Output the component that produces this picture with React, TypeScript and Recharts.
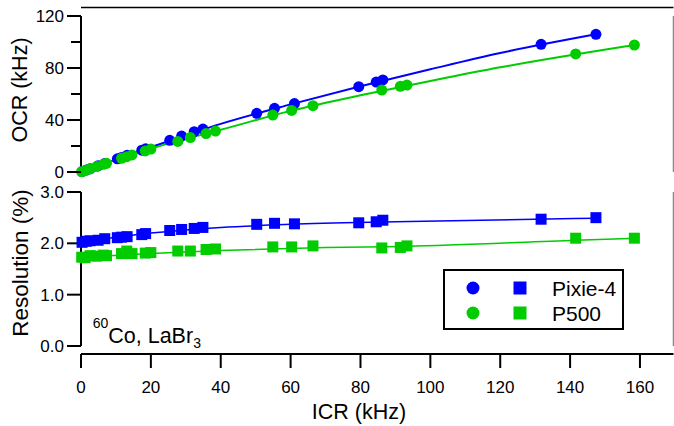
import React from "react";
import {
  ComposedChart,
  Scatter,
  Line,
  XAxis,
  YAxis,
  ReferenceLine,
  Legend,
  Label,
} from "recharts";

// ---------- data ----------
const seriesNames = ["Pixie-4", "P500"];
const seriesColors = ["#0000ff", "#00cc00"];

const blueIcr = [0.3, 1.5, 2.6, 4.9, 6.8, 10.4, 11.6, 13.2, 17.4, 18.5, 25.4, 28.8, 32.4, 34.9, 50.3, 55.4, 61.1, 79.5, 84.5, 86.4, 131.7, 147.4];
const blueOcr = [0.3, 1.5, 2.5, 4.8, 6.6, 10.1, 11.2, 12.8, 16.8, 17.8, 24.4, 27.6, 31.0, 33.0, 45.1, 49.0, 52.6, 65.6, 69.2, 70.8, 98.2, 105.9];
const blueRes = [2.02, 2.04, 2.05, 2.06, 2.09, 2.11, 2.12, 2.13, 2.17, 2.19, 2.25, 2.27, 2.29, 2.31, 2.37, 2.39, 2.38, 2.40, 2.42, 2.45, 2.47, 2.50];

const greenIcr = [0.2, 1.2, 2.6, 4.5, 6.4, 7.3, 11.6, 13.1, 14.6, 18.4, 20.0, 27.7, 31.3, 35.8, 38.5, 54.9, 60.3, 66.4, 86.1, 91.4, 93.3, 141.6, 158.4];
const greenOcr = [0.2, 1.2, 2.5, 4.2, 5.9, 6.7, 10.5, 11.8, 13.1, 16.2, 17.7, 23.5, 26.5, 29.6, 31.5, 43.8, 47.4, 51.0, 63.0, 65.9, 66.9, 90.8, 97.7];
const greenRes = [1.73, 1.72, 1.76, 1.75, 1.77, 1.76, 1.80, 1.85, 1.80, 1.81, 1.82, 1.85, 1.85, 1.88, 1.89, 1.93, 1.93, 1.95, 1.91, 1.92, 1.95, 2.10, 2.10];

// fitted curves
const blueOcrFitIcr = [0, 20, 40, 60, 80, 100, 120, 147.4];
const blueOcrFit = [0, 19, 37, 52, 66, 79, 91.5, 105.9];
const greenOcrFitIcr = [0, 20, 40, 60, 80, 100, 120, 158.4];
const greenOcrFit = [0, 18, 32.5, 47, 59, 70, 80.5, 97.7];

const blueResFitIcr = [0, 20, 40, 60, 90, 147.4];
const blueResFit = [2.02, 2.2, 2.31, 2.37, 2.42, 2.49];
const greenResFitIcr = [0, 20, 40, 70, 93, 141.6, 158.4];
const greenResFit = [1.73, 1.8, 1.86, 1.92, 1.94, 2.06, 2.1];

const xTicks = [0, 20, 40, 60, 80, 100, 120, 140, 160];
const ocrTicks = [0, 20, 40, 60, 80, 100, 120];
const ocrLabelled = [0, 40, 80, 120];
const resTicks = [0, 1, 2, 3];

const X_MAX = 169.6;
const OCR_TOP = 126.5; // frame line above the 120 tick

// ---------- tables ----------
const bluePts = blueIcr.map((x, i) => ({ icr: x, ocr: blueOcr[i], res: blueRes[i] }));
const greenPts = greenIcr.map((x, i) => ({ icr: x, ocr: greenOcr[i], res: greenRes[i] }));
const blueOcrLine = blueOcrFitIcr.map((x, i) => ({ icr: x, ocr: blueOcrFit[i] }));
const greenOcrLine = greenOcrFitIcr.map((x, i) => ({ icr: x, ocr: greenOcrFit[i] }));
const blueResLine = blueResFitIcr.map((x, i) => ({ icr: x, res: blueResFit[i] }));
const greenResLine = greenResFitIcr.map((x, i) => ({ icr: x, res: greenResFit[i] }));

const FONT = "'Liberation Sans', Arial, Helvetica, sans-serif";

const circleShape = (color: string) => (props: any) =>
  <circle cx={props.cx} cy={props.cy} r={5.5} fill={color} />;
const squareShape = (color: string) => (props: any) =>
  <rect x={props.cx - 5.5} y={props.cy - 5.5} width={11} height={11} fill={color} />;

const OcrTick = (props: any) => {
  const { x, y, payload } = props;
  const v = payload.value;
  const major = ocrLabelled.includes(v);
  const len = major ? 14 : 10;
  return (
    <g>
      <line x1={x - len} y1={y} x2={x} y2={y} stroke="#000" strokeWidth={2} />
      {major && (
        <text x={x - 17} y={y} dy="0.355em" textAnchor="end" fontSize={17} fontFamily={FONT} fill="#000">
          {v}
        </text>
      )}
    </g>
  );
};

const LegendBox = () => (
  <svg width={181} height={61} style={{ display: "block" }}>
    <rect x={1} y={1} width={179} height={59} fill="#fff" stroke="#000" strokeWidth={2} />
    {seriesNames.map((name, i) => {
      const cy = 19 + i * 25;
      return (
        <g key={name}>
          <circle cx={30} cy={cy} r={6.5} fill={seriesColors[i]} />
          <rect x={70.5} y={cy - 6.5} width={13} height={13} fill={seriesColors[i]} />
          <text x={109} y={cy + 7.5} fontSize={21} fontFamily={FONT} fill="#000">
            {name}
          </text>
        </g>
      );
    })}
  </svg>
);

export default function App() {
  return (
    <div style={{ position: "absolute", left: 0, top: 0, width: 674, height: 426, background: "#fff" }}>
      {/* top panel */}
      <div style={{ position: "absolute", left: 0, top: 0 }}>
        <ComposedChart width={674} height={192} margin={{ top: 7.5, right: 0.5, bottom: 20, left: 0 }}>
          <XAxis
            dataKey="icr"
            type="number"
            domain={[0, X_MAX]}
            ticks={xTicks}
            tick={false}
            tickLine={false}
            height={0}
            axisLine={{ stroke: "#000", strokeWidth: 2 }}
          />
          <YAxis
            dataKey="ocr"
            type="number"
            domain={[0, 120]}
            ticks={ocrTicks}
            width={81}
            padding={{ top: 8.5, bottom: 0 }}
            axisLine={false}
            tickLine={false}
            tickSize={0}
            tickMargin={0}
            tick={<OcrTick />}
            interval={0}
          >
            <Label
              content={() => (
                <text
                  x={27}
                  y={90}
                  transform="rotate(-90 27 90)"
                  textAnchor="middle"
                  fontSize={21.5}
                  fontFamily={FONT}
                  fill="#000"
                >
                  OCR (kHz)
                </text>
              )}
            />
          </YAxis>
          <ReferenceLine
            segment={[{ x: 0, y: OCR_TOP }, { x: X_MAX, y: OCR_TOP }]}
            ifOverflow="visible"
            stroke="#000"
            strokeWidth={1.5}
          />
          <ReferenceLine segment={[{ x: 0, y: 0 }, { x: 0, y: 120 }]} stroke="#000" strokeWidth={2} />
          <ReferenceLine segment={[{ x: X_MAX, y: 0 }, { x: X_MAX, y: 120 }]} stroke="#888" strokeWidth={1.5} />
          <Scatter data={bluePts} fill={seriesColors[0]} shape={circleShape(seriesColors[0])} isAnimationActive={false} />
          <Scatter data={greenPts} fill={seriesColors[1]} shape={circleShape(seriesColors[1])} isAnimationActive={false} />
          <Line data={blueOcrLine} dataKey="ocr" type="monotone" stroke={seriesColors[0]} strokeWidth={2} dot={false} activeDot={false} isAnimationActive={false} />
          <Line data={greenOcrLine} dataKey="ocr" type="monotone" stroke={seriesColors[1]} strokeWidth={2} dot={false} activeDot={false} isAnimationActive={false} />
        </ComposedChart>
      </div>

      {/* bottom panel */}
      <div style={{ position: "absolute", left: 0, top: 180 }}>
        <ComposedChart width={674} height={246} margin={{ top: 12, right: 0.5, bottom: 0, left: 0 }}>
          <XAxis
            dataKey="icr"
            type="number"
            domain={[0, X_MAX]}
            ticks={xTicks}
            interval={0}
            height={72}
            tickSize={14}
            tickMargin={13}
            axisLine={{ stroke: "#000", strokeWidth: 2 }}
            tickLine={{ stroke: "#000", strokeWidth: 2 }}
            tick={{ fontSize: 17, fontFamily: FONT, fill: "#000" }}
          >
            <Label
              content={() => (
                <text x={359} y={239} textAnchor="middle" fontSize={21.5} fontFamily={FONT} fill="#000">
                  ICR (kHz)
                </text>
              )}
            />
          </XAxis>
          <YAxis
            dataKey="res"
            type="number"
            domain={[0, 3]}
            ticks={resTicks}
            interval={0}
            width={81}
            padding={{ top: 0, bottom: 8 }}
            axisLine={false}
            tickSize={14}
            tickMargin={3}
            tickLine={{ stroke: "#000", strokeWidth: 2 }}
            tickFormatter={(v: number) => v.toFixed(1)}
            tick={{ fontSize: 17, fontFamily: FONT, fill: "#000" }}
          >
            <Label
              content={() => (
                <text
                  x={27.5}
                  y={83}
                  transform="rotate(-90 27.5 83)"
                  textAnchor="middle"
                  fontSize={22.5}
                  fontFamily={FONT}
                  fill="#000"
                >
                  Resolution (%)
                </text>
              )}
            />
          </YAxis>
          <ReferenceLine segment={[{ x: 0, y: 0 }, { x: 0, y: 3 }]} stroke="#000" strokeWidth={2} />
          <ReferenceLine segment={[{ x: X_MAX, y: 0 }, { x: X_MAX, y: 3 }]} stroke="#888" strokeWidth={1.5} />
          <Scatter data={bluePts} fill={seriesColors[0]} shape={squareShape(seriesColors[0])} isAnimationActive={false} />
          <Scatter data={greenPts} fill={seriesColors[1]} shape={squareShape(seriesColors[1])} isAnimationActive={false} />
          <Line data={blueResLine} dataKey="res" type="monotone" stroke={seriesColors[0]} strokeWidth={1.5} dot={false} activeDot={false} isAnimationActive={false} />
          <Line data={greenResLine} dataKey="res" type="monotone" stroke={seriesColors[1]} strokeWidth={1.5} dot={false} activeDot={false} isAnimationActive={false} />
          <Legend
            layout="vertical"
            align="center"
            verticalAlign="middle"
            content={() => <LegendBox />}
            wrapperStyle={{ position: "absolute", left: 443, top: 89, width: 181, height: 61 }}
          />
        </ComposedChart>
      </div>

      {/* annotation */}
      <svg width={674} height={426} style={{ position: "absolute", left: 0, top: 0, pointerEvents: "none" }}>
        <text x={92.7} y={343} fontFamily={FONT} fill="#000">
          <tspan fontSize={14} dy={-15}>60</tspan>
          <tspan fontSize={21.5} dy={15}>Co, LaBr</tspan>
          <tspan fontSize={14} dy={5}>3</tspan>
        </text>
      </svg>
    </div>
  );
}
